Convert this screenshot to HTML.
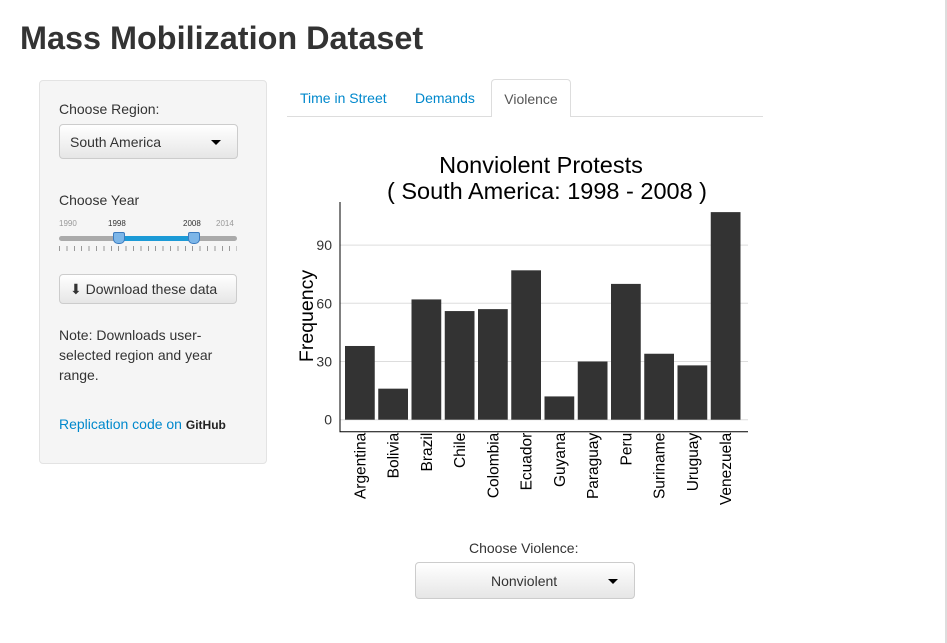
<!DOCTYPE html>
<html><head><meta charset="utf-8"><style>
body{margin:0;width:947px;height:643px;background:#fff;font-family:"Liberation Sans",sans-serif;color:#333;position:relative;overflow:hidden}
.abs{position:absolute}
h1{position:absolute;left:20px;top:20px;margin:0;font-size:32.4px;font-weight:bold;color:#333}
.panel{left:39px;top:80px;width:226px;height:382px;background:#f5f5f5;border:1px solid #e3e3e3;border-radius:4px}
.lbl{font-size:14px;color:#333}
.btn{background:linear-gradient(#fff,#e6e6e6);border:1px solid #ccc;border-radius:4px;font-size:14px;color:#333;box-sizing:border-box}
.tab{font-size:14px;color:#0088cc;top:90px}
.caret{display:inline-block;width:0;height:0;border-left:5px solid transparent;border-right:5px solid transparent;border-top:5px solid #000}
</style></head><body>
<div class="abs" style="right:0;top:0;width:2px;height:643px;background:#ddd"></div>
<h1>Mass Mobilization Dataset</h1>
<div class="abs panel"></div>
<div class="abs lbl" style="left:59px;top:101px">Choose Region:</div>
<div class="abs btn" style="left:59px;top:124px;width:179px;height:35px;padding:9px 10px">South America<span class="caret abs" style="right:16px;top:15px"></span></div>
<div class="abs lbl" style="left:59px;top:192px">Choose Year</div>
<div class="abs" style="left:59px;top:219px;font-size:8px;color:#999">1990</div>
<div class="abs" style="left:108px;top:219px;font-size:8px;color:#333">1998</div>
<div class="abs" style="left:183px;top:219px;font-size:8px;color:#333">2008</div>
<div class="abs" style="left:216px;top:219px;font-size:8px;color:#999">2014</div>
<div class="abs" style="left:59px;top:236px;width:178px;height:5px;background:#aaa;border-radius:3px"></div>
<div class="abs" style="left:118px;top:236px;width:75px;height:5px;background:#1c9ad6"></div>
<div class="abs" style="left:113px;top:232px;width:10px;height:10px;background:#7db6e8;border:1px solid #3b7bbf;border-radius:2px 2px 5px 5px"></div>
<div class="abs" style="left:188px;top:232px;width:10px;height:10px;background:#7db6e8;border:1px solid #3b7bbf;border-radius:2px 2px 5px 5px"></div>
<div class="abs" style="left:59px;top:246px;width:178px;height:5px;background:repeating-linear-gradient(90deg,#999 0 1px,transparent 1px 7.4px)"></div>
<div class="abs btn" style="left:59px;top:274px;width:178px;height:30px;padding:6px 10px;font-size:14px">⬇ Download these data</div>
<div class="abs lbl" style="left:59px;top:325px;width:180px;line-height:20px">Note: Downloads user-selected region and year range.</div>
<div class="abs" style="left:59px;top:416px;font-size:14px;color:#0088cc">Replication code on <b style="color:#222;font-size:12px">GitHub</b></div>
<div class="abs" style="left:287px;top:116px;width:476px;height:1px;background:#ddd"></div>
<div class="abs tab" style="left:300px">Time in Street</div>
<div class="abs tab" style="left:415px">Demands</div>
<div class="abs" style="left:491px;top:79px;width:80px;height:38px;background:#fff;border:1px solid #ddd;border-bottom:none;border-radius:4px 4px 0 0;font-size:14px;color:#555;text-align:center;line-height:38px;box-sizing:border-box">Violence</div>
<svg class="abs" style="left:0;top:0" width="947" height="643" id="chart"></svg>
<div class="abs lbl" style="left:469px;top:540px">Choose Violence:</div>
<div class="abs btn" style="left:415px;top:562px;width:220px;height:37px;padding:10px 0 0 75px">Nonviolent<span class="caret abs" style="right:16px;top:16px"></span></div>
<script>
const categories=["Argentina","Bolivia","Brazil","Chile","Colombia","Ecuador","Guyana","Paraguay","Peru","Suriname","Uruguay","Venezuela"];
const values=[38,16,62,56,57,77,12,30,70,34,28,107];
const yTicks=[0,30,60,90];
const svg=document.getElementById('chart');const NS='http://www.w3.org/2000/svg';
const x0=340,x1=748,y0=419.7,pxPer=58.2/30;
const band=(744-345)/categories.length;
const X=i=>345+i*band, Y=v=>y0-v*pxPer;
function mk(t,a,txt){const e=document.createElementNS(NS,t);for(const k in a)e.setAttribute(k,a[k]);if(txt!=null)e.textContent=txt;svg.appendChild(e);return e;}
yTicks.forEach(t=>{const g=mk('line',{x1:x0,x2:x1,y1:Y(t),y2:Y(t),stroke:'#ddd','stroke-width':1});


const l=mk('text',{x:x0-8,y:Y(t)+5,'text-anchor':'end','font-size':14,fill:'#333','font-family':'Liberation Sans'},String(t));

});
categories.forEach((c,i)=>{const r=mk('rect',{x:X(i),y:Y(values[i]),width:band-3.5,height:values[i]*pxPer,fill:'#333'});


const cx=X(i)+(band-3.5)/2;
const t=mk('text',{x:0,y:0,transform:`translate(${cx+5.5},${y0+13}) rotate(-90)`,'text-anchor':'end','font-size':15.5,fill:'#000','font-family':'Liberation Sans'},c);

});
const ax=mk('path',{d:`M${x0},202V${y0+12}H${x1}`,stroke:'#000',fill:'none','stroke-width':1});


const yt=mk('text',{transform:'translate(313,316) rotate(-90)','text-anchor':'middle','font-size':19.5,fill:'#000','font-family':'Liberation Sans'},'Frequency');


const t1=mk('text',{x:541,y:173,'text-anchor':'middle','font-size':23.5,fill:'#000','font-family':'Liberation Sans'},'Nonviolent Protests');


const t2=mk('text',{x:547,y:199,'text-anchor':'middle','font-size':23.5,fill:'#000','font-family':'Liberation Sans'},'( South America: 1998 - 2008 )');


</script>
</body></html>
